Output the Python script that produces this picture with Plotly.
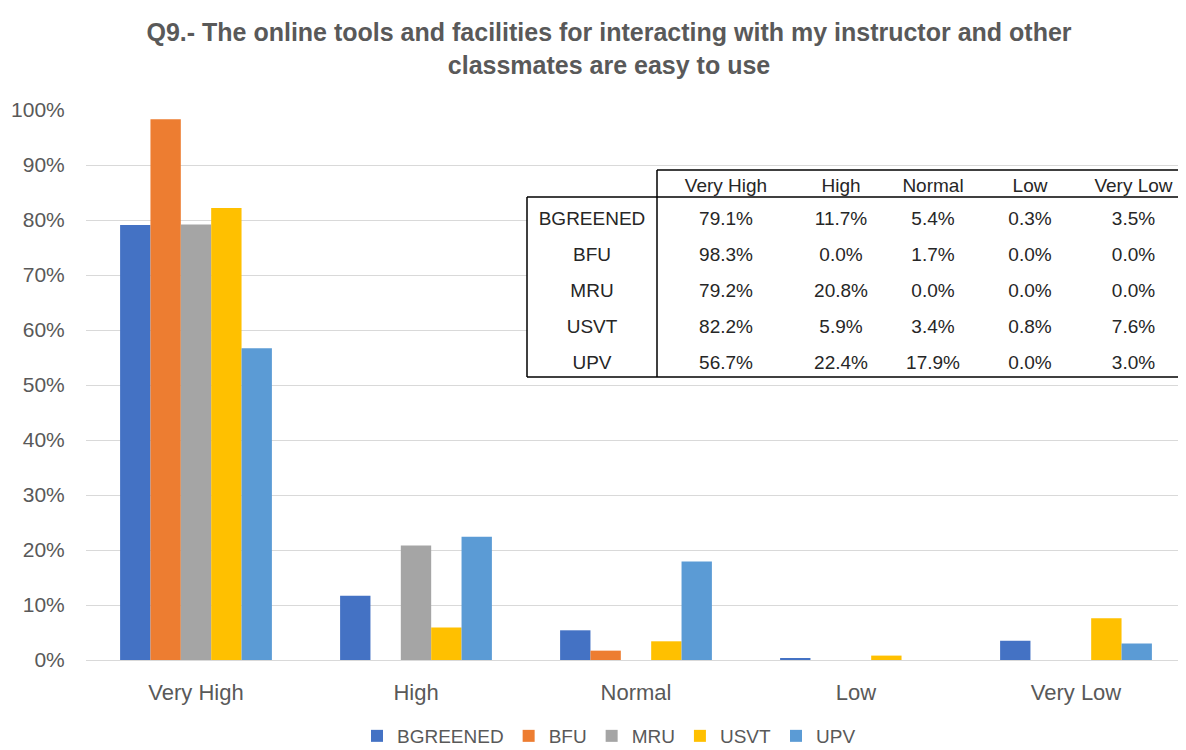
import plotly.graph_objects as go

# Survey answers (percent of respondents) per institution
categories = ['Very High', 'High', 'Normal', 'Low', 'Very Low']
institutions = ['BGREENED', 'BFU', 'MRU', 'USVT', 'UPV']
bgreened = [79.1, 11.7, 5.4, 0.3, 3.5]
bfu = [98.3, 0.0, 1.7, 0.0, 0.0]
mru = [79.2, 20.8, 0.0, 0.0, 0.0]
usvt = [82.2, 5.9, 3.4, 0.8, 7.6]
upv = [56.7, 22.4, 17.9, 0.0, 3.0]

series = [bgreened, bfu, mru, usvt, upv]
colors = ['#4472C4', '#ED7D31', '#A5A5A5', '#FFC000', '#5B9BD5']

# page has an 8px body margin, so the figure is a bit smaller than the window
OFF = 8
W, H = 1178, 742
L, R, T, B = 78, 0, 102, 90
PW, PH = W - L - R, H - T - B
FONT = 'Liberation Sans, Arial, sans-serif'
GREY = '#595959'


def px_x(px):
    # window pixel -> paper fraction
    return (px - OFF - L) / PW


def px_y(py):
    return (H - B - (py - OFF)) / PH


fig = go.Figure()
for name, vals, col in zip(institutions, series, colors):
    fig.add_trace(go.Bar(
        x=categories, y=[v / 100 for v in vals], name=name,
        marker=dict(color=col, line=dict(width=0)),
    ))

# data table overlay (Excel style); frame lines drawn as shapes
tbl_left, tbl_right, tbl_top = 527, 1186, 170
head_line, tbl_bottom, first_w = 197, 377, 130
head_h, row_h = 33, 36
col_w = [first_w, 138, 92, 92, 102, 105]

cell_cols = [institutions]
for i in range(len(categories)):
    cell_cols.append(['%.1f%%' % s[i] for s in series])

tbl_end = tbl_top + head_h + row_h * len(institutions)
fig.add_trace(go.Table(
    domain=dict(x=[px_x(tbl_left), px_x(tbl_right)], y=[px_y(tbl_end), px_y(tbl_top)]),
    columnwidth=col_w,
    header=dict(values=[''] + categories, height=head_h, align='center',
                fill=dict(color='white'), line=dict(width=0, color='white'),
                font=dict(family=FONT, size=19, color='#262626')),
    cells=dict(values=cell_cols, height=row_h, align='center',
               fill=dict(color='white'), line=dict(width=0, color='white'),
               font=dict(family=FONT, size=19, color='#262626')),
))

x_div = tbl_left + first_w
line_style = dict(color='black', width=1.5)
borders = [
    (x_div, tbl_top, tbl_right, tbl_top),
    (tbl_left, head_line, tbl_right, head_line),
    (tbl_left, tbl_bottom, tbl_right, tbl_bottom),
    (tbl_left, head_line, tbl_left, tbl_bottom),
    (x_div, tbl_top, x_div, tbl_bottom),
]
for x0, y0, x1, y1 in borders:
    fig.add_shape(type='line', xref='paper', yref='paper', layer='above',
                  x0=px_x(x0), y0=px_y(y0), x1=px_x(x1), y1=px_y(y1), line=line_style)

fig.update_layout(
    width=W, height=H,
    margin=dict(l=L, r=R, t=T, b=B),
    paper_bgcolor='white', plot_bgcolor='white',
    font=dict(family=FONT, color=GREY, size=18),
    title=dict(text='<b>Q9.- The online tools and facilities for interacting with my instructor and other<br>classmates are easy to use</b>',
               x=(609 - OFF) / W, xanchor='center', y=1 - 33 / H, yanchor='top',
               font=dict(family=FONT, size=25, color=GREY)),
    barmode='group', bargap=0.31, bargroupgap=0,
    legend=dict(orientation='h', x=(609 - OFF) / W, xanchor='center', xref='container',
                y=1 - (736 - OFF) / H, yanchor='middle', yref='container',
                font=dict(size=19, color=GREY), itemwidth=30),
    xaxis=dict(showgrid=False, showline=True, linecolor='#d9d9d9', linewidth=1,
               ticks='outside', ticklen=13, tickcolor='rgba(0,0,0,0)',
               tickfont=dict(size=22, color=GREY)),
    yaxis=dict(range=[0, 1], dtick=0.1, tickformat='.0%', showgrid=True,
               gridcolor='#d9d9d9', zeroline=False, showline=False,
               ticks='outside', ticklen=16, tickcolor='rgba(0,0,0,0)',
               tickfont=dict(size=21, color=GREY)),
)

fig.write_html('out.html')
